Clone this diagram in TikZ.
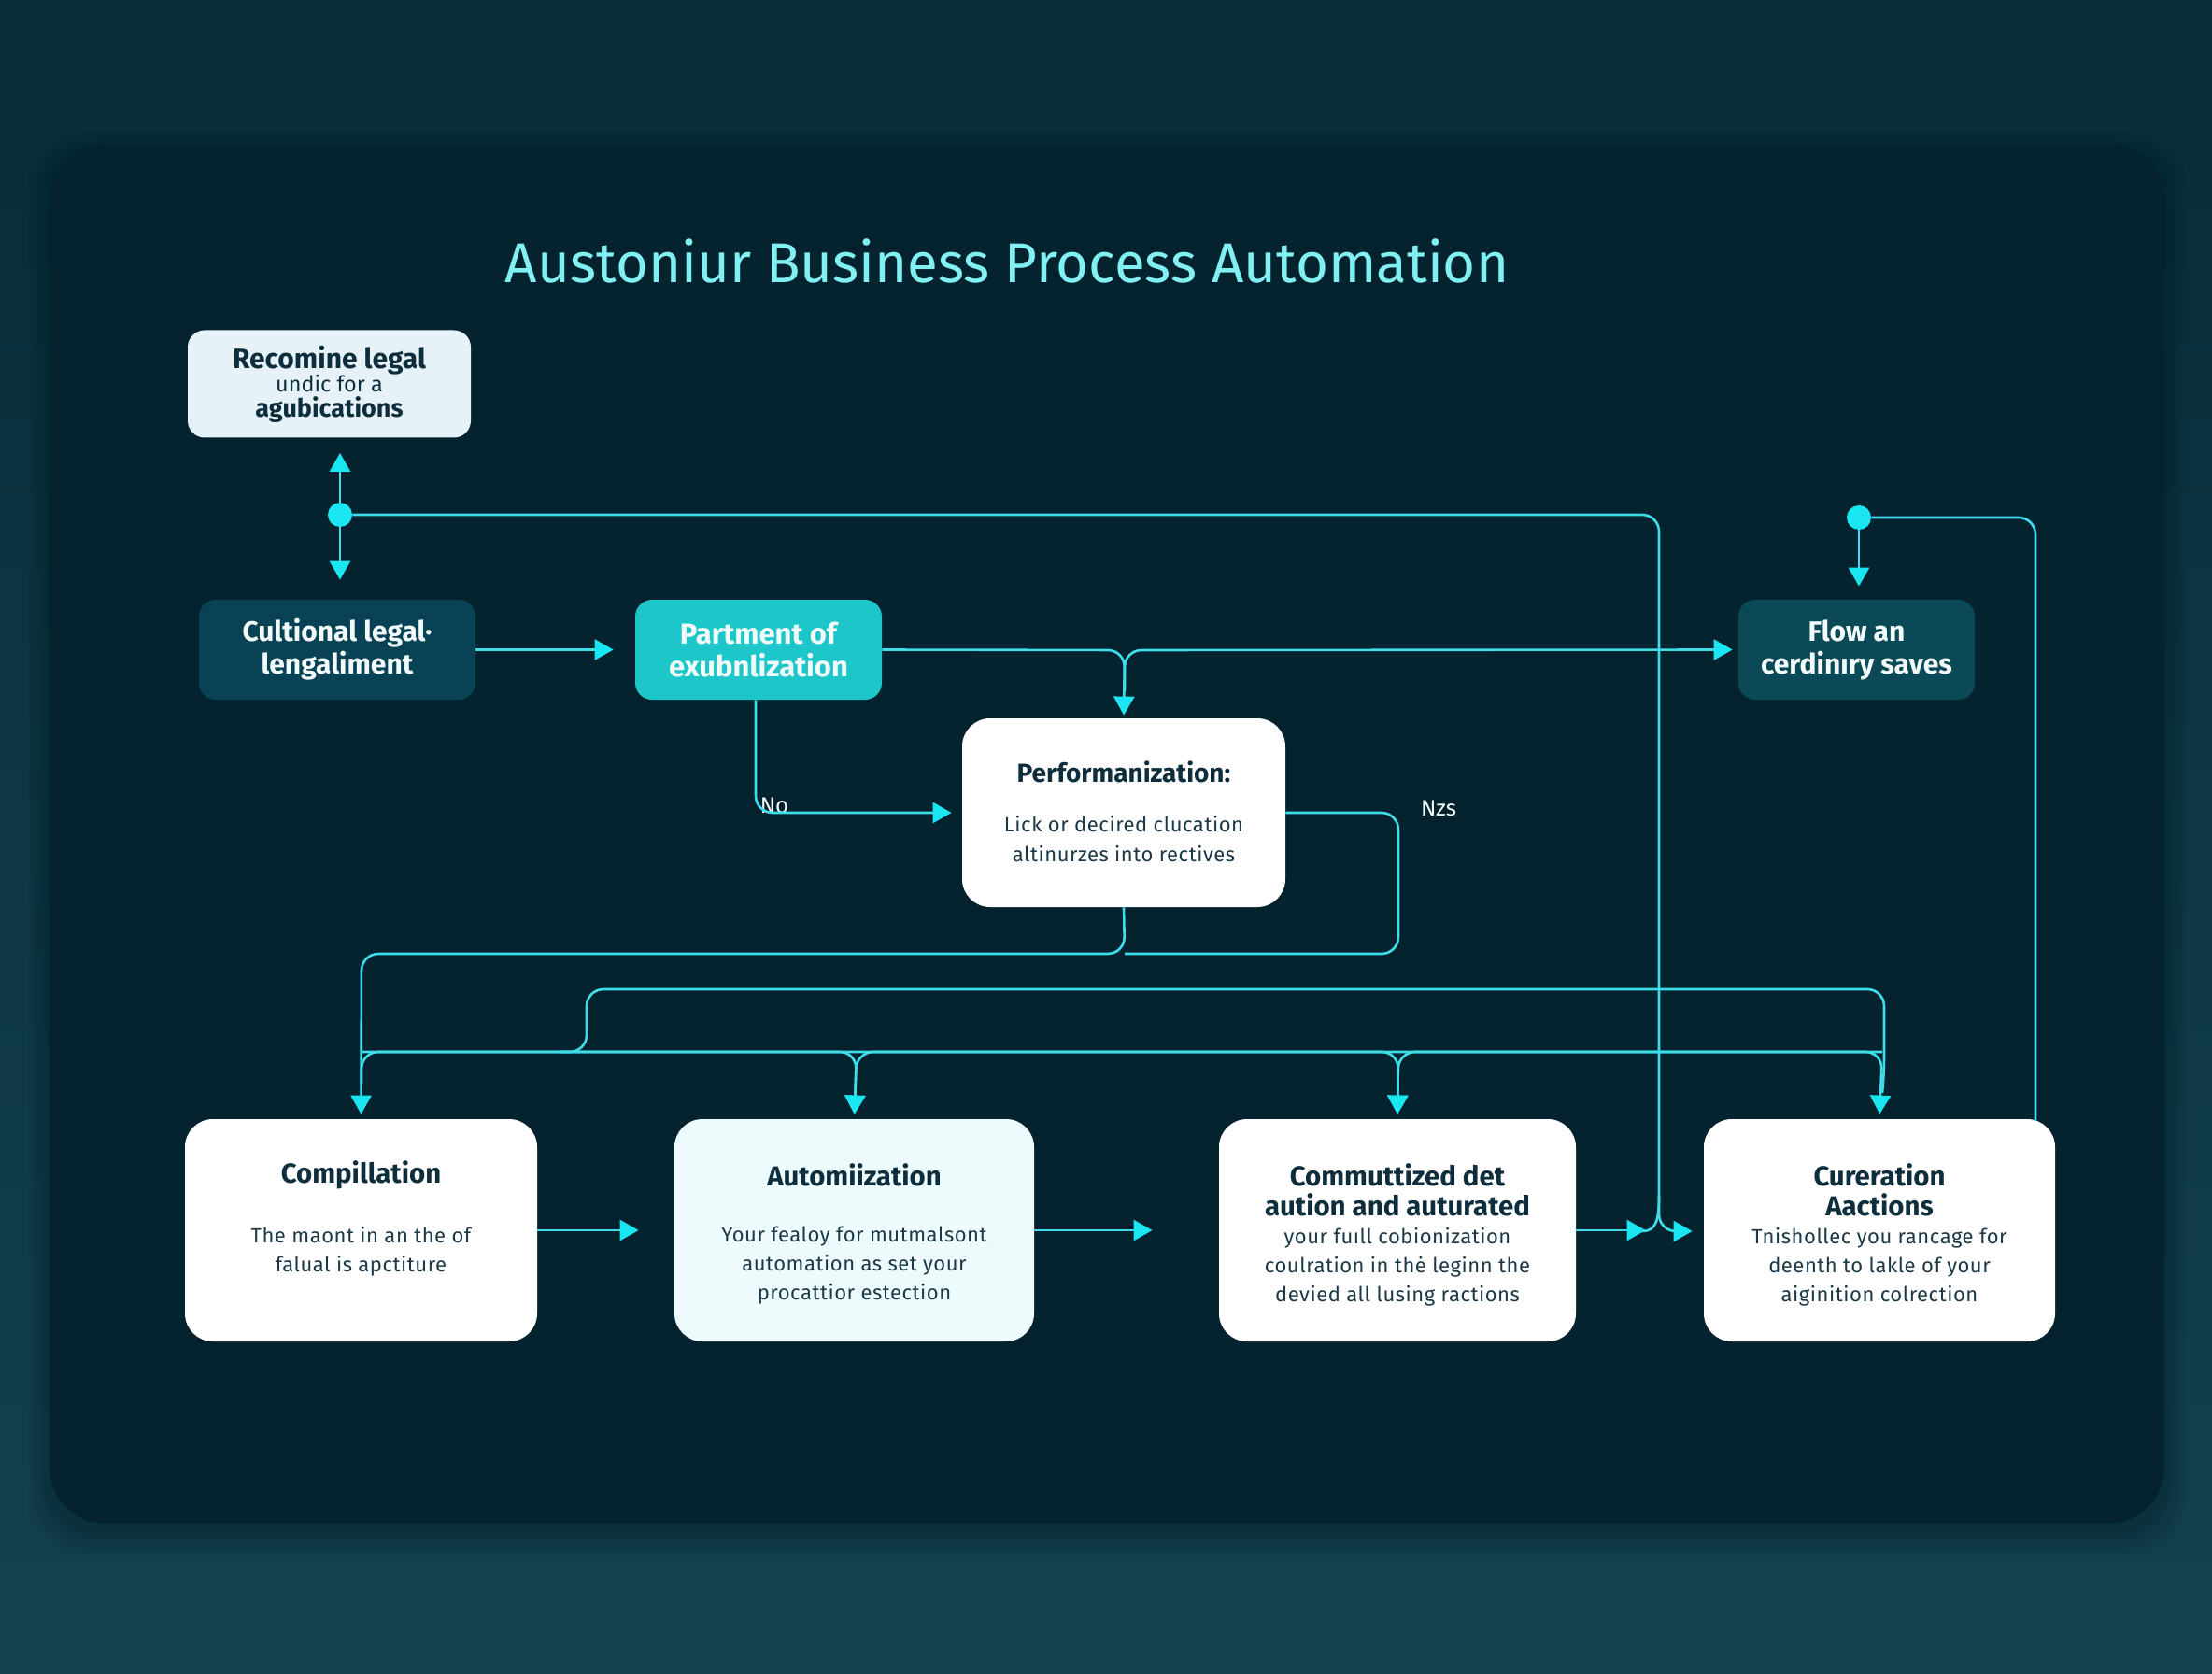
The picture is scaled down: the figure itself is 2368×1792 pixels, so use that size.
\documentclass[tikz,border=0pt]{standalone}
\usepackage{fontspec}
\setmainfont{Fira Sans}
\newfontfamily\bodyfont[LetterSpace=2.5]{Fira Sans}
\usetikzlibrary{arrows.meta,calc}
\definecolor{bgtop}{HTML}{082C3A}
\definecolor{bgbot}{HTML}{144250}
\definecolor{panelc}{HTML}{05222F}
\definecolor{ln}{HTML}{3FDDEA}
\definecolor{tipc}{HTML}{19E6F0}
\definecolor{ttlc}{HTML}{80F0F2}
\definecolor{ink}{HTML}{0E2E3D}
\definecolor{inkb}{HTML}{1B3847}
\definecolor{lightbox}{HTML}{E6F2F8}
\definecolor{darkbox}{HTML}{0A4255}
\definecolor{flowbox}{HTML}{0C4957}
\definecolor{cyanbox}{HTML}{1CC6C9}
\definecolor{autobox}{HTML}{EEFBFD}
\definecolor{wtext}{HTML}{F2FAFA}
\begin{document}
\begin{tikzpicture}[x=0.5pt,y=-0.5pt,
  conn/.style={draw=ln,line width=1.3pt,rounded corners=9pt},
  arr/.style={conn,-{Triangle[length=10pt,width=11pt,color=tipc]}},
  smallbox/.style={rounded corners=9pt,inner sep=0pt,align=center},
  bigbox/.style={rounded corners=15pt,inner sep=0pt,fill=white,minimum width=188.5pt,minimum height=119pt},
  ttl/.style={align=center,text=ink,font=\bfseries\fontsize{14.7}{16}\selectfont},
  bdy/.style={align=center,text=inkb,font=\bodyfont\fontsize{11}{15.5}\selectfont},
  lbl/.style={text=wtext,font=\fontsize{12}{14}\selectfont},
  dotc/.style={circle,fill=tipc,minimum size=13pt,inner sep=0pt}
]
\useasboundingbox (0,0) rectangle (2368,1792);
\fill[top color=bgtop,bottom color=bgbot] (0,0) rectangle (2368,1792);
% panel shadow
\foreach \d in {3,6,...,24}
  \fill[black,opacity=0.018,rounded corners=30pt] (53-\d,154-\d+10) rectangle (2317+\d,1631+\d+10);
\fill[panelc,rounded corners=30pt] (53,154) rectangle (2317,1631);

% title
\node[text=ttlc,font=\fontsize{30}{36}\selectfont] (title) at (1078,279) {Austoniur Business Process Automation};

% upper nodes
\node[smallbox,fill=lightbox,minimum width=151.5pt,minimum height=57.5pt,text=ink,font=\fontsize{12}{13}\selectfont] (n1) at (352.5,411)
  {{\bfseries\fontsize{15}{13}\selectfont Recomine legal}\\[-0.5pt]{\fontsize{11.7}{13}\selectfont undic for a}\\[0.5pt]{\bfseries\fontsize{13.5}{13}\selectfont agubications}};
\node[smallbox,fill=darkbox,minimum width=148pt,minimum height=53.5pt,text=wtext,font=\bfseries\fontsize{15}{17.5}\selectfont] (n2) at (361,695.5)
  {Cultional legal·\\lengaliment};
\node[smallbox,fill=cyanbox,minimum width=132pt,minimum height=53.5pt,text=wtext,font=\bfseries\fontsize{15.5}{17.5}\selectfont] (n3) at (812,695.5)
  {Partment of\\exubnlization};
\node[smallbox,fill=flowbox,minimum width=126.5pt,minimum height=53.5pt,text=wtext,font=\bfseries\fontsize{15}{17.5}\selectfont] (flow) at (1987.5,695.5)
  {Flow an\\cerdinıry saves};
\node[bigbox,minimum width=173pt,minimum height=101pt] (perf) at (1203,870) {};
\node[ttl,font=\bfseries\fontsize{14}{16}\selectfont] (perfT) at (1203,826) {Performanization:};
\node[bdy,font=\bodyfont\fontsize{11}{16}\selectfont] (perfB) at (1203,898) {Lick or decired clucation\\altinurzes into rectives};

% dots
\node[dotc] (dot1) at (364,551) {};
\node[dotc] (dot2) at (1990,554) {};

% bottom boxes
\node[bigbox] (comp) at (386.5,1317) {};
\node[bigbox,fill=autobox,minimum width=192.5pt] (auto) at (914.5,1317) {};
\node[bigbox,minimum width=191pt] (comm) at (1496,1317) {};
\node[bigbox,minimum width=188pt] (cure) at (2012,1317) {};

\node[ttl] (compT) at (386.5,1258) {Compillation};
\node[bdy] (compB) at (386.5,1340) {The maont in an the of\\falual is apctiture};
\node[ttl] (autoT) at (914.5,1258) {Automiization};
\node[bdy] (autoB) at (914.5,1355) {Your fealoy for mutmalsont\\automation as set your\\procattior estection};
\node[ttl] (commT) at (1496,1274) {Commuttized det\\aution and auturated};
\node[bdy] (commB) at (1496,1356) {your fuıll cobionization\\coulration in thė leginn the\\devied all lusing ractions};
\node[ttl] (cureT) at (2012,1274) {Cureration\\Aactions};
\node[bdy] (cureB) at (2012,1356) {Tnishollec you rancage for\\deenth to lakle of your\\aiginition colrection};

% labels
\node[lbl] (no) at (829,862) {No};
\node[lbl] (nzs) at (1540,865) {Nzs};

% junction coordinates
\coordinate (jA) at (1204,696);
\coordinate (jB) at (1776,551);
\coordinate (jC) at (1204,1021);
\coordinate (jD) at (1497,870);
\coordinate (jE) at (1497,1021);
\coordinate (jF) at (387,1021);
\coordinate (bL) at (387,1126);
\coordinate (bA) at (917,1126);
\coordinate (bC) at (1497,1126);
\coordinate (bR) at (2015,1126);
\coordinate (uL) at (628,1059);
\coordinate (uR) at (2017,1059);
\coordinate (uB) at (628,1126);
\coordinate (uS) at (600,1126);
\coordinate (vJ) at (1776,1318);
\coordinate (d2R) at (2179,554);
\coordinate (d2E) at (2179,1200);

% connectors: top
\draw[arr,shorten >=8pt] (dot1) -- (dot1 |- n1.south);
\draw[arr,shorten >=10.5pt] (dot1) -- (dot1 |- n2.north);
\draw[arr,shorten >=6pt] (dot1) -- (jB) -- (vJ) -- (cure.west |- vJ);
\draw[conn] (1776,1280) .. controls (1776,1308) and (1772,1318) .. (1758,1318);
\draw[arr,shorten >=11.5pt] (n2.east) -- (n3.west);
\draw[arr,shorten >=1.5pt] (n3.east) -- (jA) -- (perf.north);
\draw[arr,shorten >=3pt] (1204,740) -- (jA) -- (flow.west);
\draw[arr,shorten >=5.5pt] (n3.south -| 809,0) -- (809,870) -- (perf.west);
\draw[conn] (perf.east) -- (jD) -- (jE) -- (jC);
\draw[arr,shorten >=2.5pt] (perf.south) -- (jC) -- (jF) -- (comp.north);
\draw[arr,shorten >=7pt] (dot2) -- (dot2 |- flow.north);
\draw[conn] (dot2) -- (d2R) -- (d2E);

% buses
\draw[conn] (2015,1170) -- (2017,1150) -- (uR) -- (uL) -- (uB) -- (uS);
\draw[conn] (387,1160) -- (bL) -- (bA);
\draw[arr,shorten >=2.5pt] (bL) -- (bA) -- (auto.north);
\draw[arr,shorten >=2.5pt] (bC) -- (bA) -- (auto.north);
\draw[arr,shorten >=2.5pt] (bA) -- (bC) -- (comm.north);
\draw[arr,shorten >=2.5pt] (bR) -- (bC) -- (comm.north);
\draw[arr,shorten >=2.5pt] (bC) -- (bR) -- (cure.north);

% bottom row arrows
\draw[arr,shorten >=19pt] (comp.east) -- (auto.west);
\draw[arr,shorten >=35.5pt] (auto.east) -- (comm.west);
\draw[arr,shorten >=31pt] (comm.east) -- (cure.west);
\end{tikzpicture}
\end{document}
